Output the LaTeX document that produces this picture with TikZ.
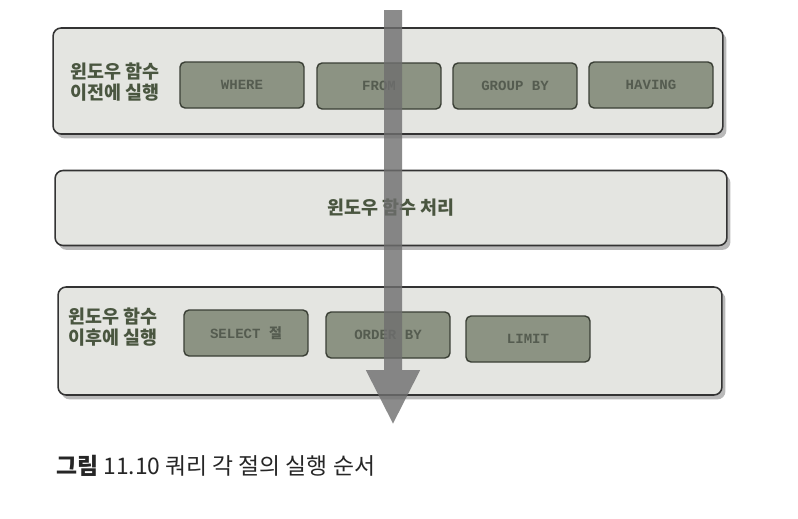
\documentclass[tikz,border=0pt]{standalone}
\usepackage{fontspec}
\setmainfont{Noto Sans CJK KR}
\newfontfamily\clausefont{Liberation Mono}
\usetikzlibrary{arrows.meta,shadows}
\definecolor{bandgray}{HTML}{E4E5E1}
\definecolor{clausefill}{HTML}{8C9383}
\definecolor{clauseline}{HTML}{3A3F35}
\definecolor{clausetext}{HTML}{555C50}
\definecolor{labeltext}{HTML}{4A5640}
\definecolor{flowgray}{HTML}{6E6E6E}
\begin{document}
\begin{tikzpicture}[
    x=0.02cm,y=-0.02cm,
    band/.style={rectangle,draw=black!80,line width=0.9pt,rounded corners=0.16cm,fill=bandgray,
        drop shadow={shadow xshift=2pt,shadow yshift=-2.5pt,opacity=0.55}},
    clause/.style={rectangle,draw=clauseline,line width=0.8pt,rounded corners=0.1cm,fill=clausefill,
        minimum width=2.48cm,minimum height=0.92cm,font=\clausefont\bfseries\footnotesize,text=clausetext},
    stage/.style={align=left,font=\fontsize{10.5}{12}\selectfont\bfseries,text=labeltext,anchor=west},
    flow/.style={-{Triangle[width=1cm,length=1.1cm]},line width=0.36cm,draw=flowgray}
]
    \useasboundingbox (0,0) rectangle (798,518);

    % Band 1: before window functions
    \node[band,minimum width=13.4cm,minimum height=2.12cm] (before) at (388,81) {};
    \node[stage] (beforelbl) at (64,82) {윈도우 함수\\이전에 실행};
    \node[clause] (where) at (242,85) {WHERE};
    \node[clause] (from) at (379,86) {FROM};
    \node[clause] (groupby) at (515,86) {GROUP BY};
    \node[clause] (having) at (651,85) {HAVING};

    % Band 2: window function processing
    \node[band,minimum width=13.44cm,minimum height=1.5cm,font=\fontsize{10.5}{12}\selectfont\bfseries,text=labeltext] (window) at (391,208) {윈도우 함수 처리};

    % Band 3: after window functions
    \node[band,minimum width=13.28cm,minimum height=2.16cm] (after) at (390,341) {};
    \node[stage] (afterlbl) at (62,327) {윈도우 함수\\이후에 실행};
    \node[clause] (select) at (246,333) {SELECT {\rmfamily\bfseries 절}};
    \node[clause] (orderby) at (388,335) {ORDER BY};
    \node[clause] (limit) at (528,339) {LIMIT};

    % Execution order
    \coordinate (start) at (393,10);
    \coordinate (finish) at (393,425);
    \begin{scope}[transparency group,opacity=0.8]
        \draw[flow] (start) -- (finish);
    \end{scope}

    % Caption
    \node[anchor=west,font=\fontsize{13}{15}\selectfont,text=black!85] (caption) at (50,466) {\textbf{그림} 11.10 쿼리 각 절의 실행 순서};
\end{tikzpicture}
\end{document}
